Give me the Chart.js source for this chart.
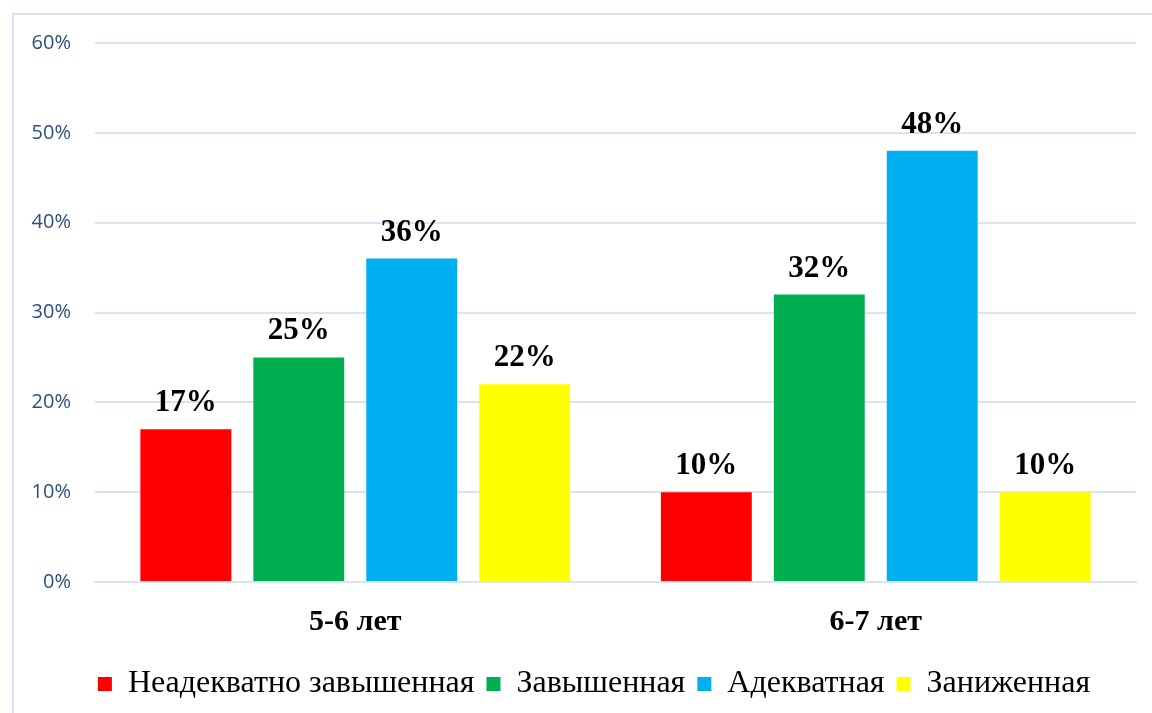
<!DOCTYPE html>
<html lang="ru">
<head>
  <meta charset="UTF-8" />
  <title>Самооценка детей</title>
  <script src="https://cdn.jsdelivr.net/npm/chart.js"></script>
  <style>
    html, body {
      margin: 0;
      padding: 0;
      background: #ffffff;
      overflow: hidden;
    }

    .wrap {
      position: relative;
      width: 1152px;
      height: 713px;
    }

    .frame {
      position: absolute;
      left: 12px;
      top: 13px;
      width: 2000px;
      height: 2000px;
      border: 2px solid #d9e4f3;
      pointer-events: none;
    }
  </style>
</head>
<body>
  <div class="wrap">
    <canvas id="chart" width="1152" height="713"></canvas>
    <div class="frame"></div>
  </div>

  <script>
    const categories = ["5-6 лет", "6-7 лет"];
    const seriesNames = ["Неадекватно завышенная", "Завышенная", "Адекватная", "Заниженная"];
    const seriesColors = ["#ff0000", "#00b050", "#00b0f0", "#ffff00"];
    const neadekvatno = [17, 10];
    const zavyshennaya = [25, 32];
    const adekvatnaya = [36, 48];
    const zanizhennaya = [22, 10];
    const yTicks = [0, 10, 20, 30, 40, 50, 60];

    const seriesValues = [neadekvatno, zavyshennaya, adekvatnaya, zanizhennaya];
    const serif = "'Liberation Serif', 'Times New Roman', serif";

    Chart.defaults.font.family = serif;

    // подписи значений над столбцами
    const valueLabels = {
      id: "valueLabels",
      afterDatasetsDraw(chart) {
        const ctx = chart.ctx;
        ctx.save();
        ctx.font = "bold 31px " + serif;
        ctx.fillStyle = "#000000";
        ctx.textAlign = "center";
        ctx.textBaseline = "alphabetic";
        chart.data.datasets.forEach((ds, i) => {
          chart.getDatasetMeta(i).data.forEach((bar, j) => {
            ctx.fillText(ds.data[j] + "%", bar.x, bar.y - 18);
          });
        });
        ctx.restore();
      }
    };

    // legend in the original sits a bit right of centre
    const legendShift = {
      id: "legendShift",
      afterLayout(chart) {
        chart.legend.left += 26;
        chart.legend.right += 26;
      }
    };

    new Chart(document.getElementById("chart"), {
      type: "bar",
      data: {
        labels: categories,
        datasets: seriesNames.map((name, i) => ({
          label: name,
          data: seriesValues[i],
          backgroundColor: seriesColors[i],
          borderWidth: 0,
          categoryPercentage: 0.868,
          barPercentage: 0.805
        }))
      },
      options: {
        responsive: false,
        animation: false,
        layout: {
          padding: { left: 0, right: 16, top: 43, bottom: 3 }
        },
        plugins: {
          tooltip: { enabled: false },
          legend: {
            position: "bottom",
            labels: {
              color: "#000000",
              font: { family: serif, size: 32 },
              boxWidth: 14,
              boxHeight: 14,
              padding: 12
            }
          }
        },
        scales: {
          x: {
            grid: { display: false },
            border: { color: "#d9e4f3", width: 2 },
            ticks: {
              color: "#000000",
              padding: 14,
              font: { family: serif, size: 30, weight: "bold" }
            },
            afterFit(scale) { scale.height = 74; }
          },
          y: {
            min: 0,
            max: 60,
            afterBuildTicks(scale) {
              scale.ticks = yTicks.map(v => ({ value: v }));
            },
            afterFit(scale) { scale.width = 95; },
            grid: { color: "#d9e4f3", lineWidth: 2, drawTicks: false },
            border: { display: false },
            ticks: {
              color: "#2f4f7f",
              padding: 24,
              font: { family: "'Open Sans', sans-serif", size: 20 },
              callback: v => v + "%"
            }
          }
        }
      },
      plugins: [valueLabels, legendShift]
    });
  </script>
</body>
</html>
